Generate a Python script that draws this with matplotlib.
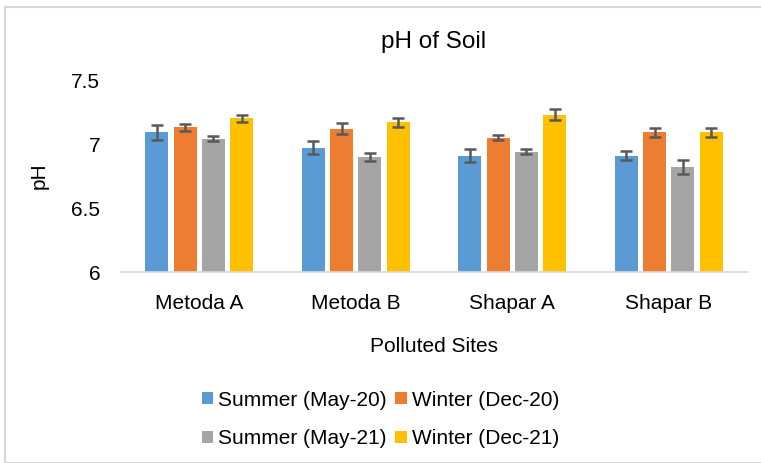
import matplotlib
matplotlib.use("Agg")
import matplotlib.pyplot as plt
import numpy as np
from matplotlib.patches import Rectangle

plt.rcParams['font.family'] = ['Liberation Sans', 'DejaVu Sans']

sites = ['Metoda A', 'Metoda B', 'Shapar A', 'Shapar B']
series = ['Summer (May-20)', 'Winter (Dec-20)', 'Summer (May-21)', 'Winter (Dec-21)']
colors = ['#5b9bd5', '#ed7d31', '#a5a5a5', '#ffc000']

summer20 = [7.09, 6.97, 6.91, 6.91]
winter20 = [7.13, 7.12, 7.05, 7.09]
summer21 = [7.04, 6.90, 6.94, 6.82]
winter21 = [7.20, 7.17, 7.23, 7.09]

err_summer20 = [0.055, 0.05, 0.05, 0.033]
err_winter20 = [0.03, 0.045, 0.02, 0.034]
err_summer21 = [0.02, 0.03, 0.02, 0.053]
err_winter21 = [0.03, 0.035, 0.045, 0.034]

values = [summer20, winter20, summer21, winter21]
errors = [err_summer20, err_winter20, err_summer21, err_winter21]

fig = plt.figure(figsize=(7.61, 4.63), dpi=100)
ax = fig.add_axes([0.159, 0.4125, 0.8226, 0.4147])

x = np.arange(len(sites))
width = 0.147
pitch = 0.182
bars = []
for i in range(4):
    pos = x + (i - 1.5) * pitch
    b = ax.bar(pos, np.array(values[i]) - 6, width, bottom=6, color=colors[i], label=series[i],
               yerr=errors[i], error_kw=dict(ecolor='#595959', elinewidth=1.8, capsize=4, capthick=1.8))
    bars.append(b)

ax.set_xlim(-0.5, 3.5)
ax.set_ylim(6, 7.5)
ax.set_yticks([6, 6.5, 7, 7.5])
ax.set_yticklabels(['6', '6.5', '7', '7.5'])
ax.set_xticks(x)
ax.set_xticklabels(sites)
ax.tick_params(axis='both', length=0, labelsize=15, labelcolor='#000000')
ax.tick_params(axis='x', pad=16)
ax.tick_params(axis='y', pad=15)
for s in ['top', 'right', 'left']:
    ax.spines[s].set_visible(False)
ax.spines['bottom'].set_color('#d9d9d9')
ax.spines['bottom'].set_linewidth(1.2)

ax.set_title('pH of Soil', fontsize=17.5, pad=23)
ax.set_ylabel('pH', fontsize=15, labelpad=16)
ax.set_xlabel('Polluted Sites', fontsize=15, labelpad=17)

# legend filled row by row: reorder for matplotlib's column-major layout
order = [0, 2, 1, 3]
fig.legend([bars[k] for k in order], [series[k] for k in order],
           loc='center', bbox_to_anchor=(0.5, 0.094), ncol=2, frameon=False, fontsize=15,
           handlelength=0.55, handleheight=0.55, handletextpad=0.25, columnspacing=0.4,
           labelspacing=0.95)

fig.patches.append(Rectangle((5 / 761, 0), 1.2, 1 - 7 / 463, transform=fig.transFigure,
                             fill=False, edgecolor='#d9d9d9', linewidth=1.5))

fig.savefig('out.png', dpi=100)
